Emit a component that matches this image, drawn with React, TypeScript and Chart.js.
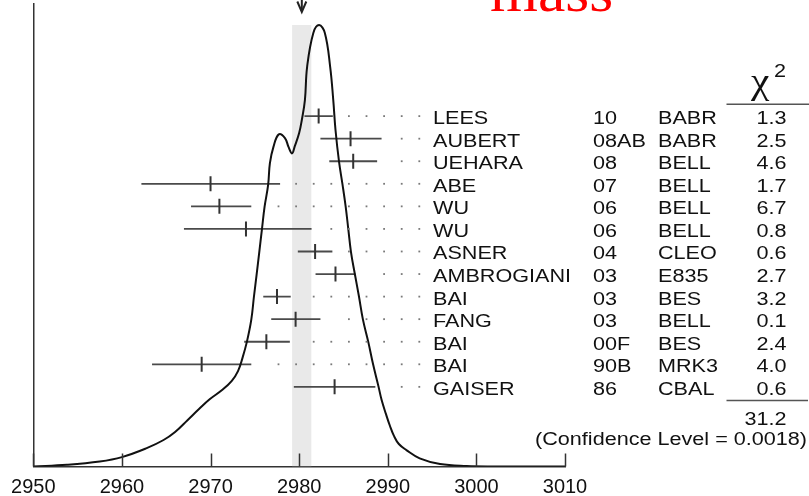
import React, { useEffect, useRef } from 'react';
import { Chart, registerables } from 'chart.js';

Chart.register(...registerables);

// ---- data ----
const names = ['LEES', 'AUBERT', 'UEHARA', 'ABE', 'WU', 'WU', 'ASNER', 'AMBROGIANI', 'BAI', 'FANG', 'BAI', 'BAI', 'GAISER'];
const years = ['10', '08AB', '08', '07', '06', '06', '04', '03', '03', '03', '00F', '90B', '86'];
const experiments = ['BABR', 'BABR', 'BELL', 'BELL', 'BELL', 'BELL', 'CLEO', 'E835', 'BES', 'BELL', 'BES', 'MRK3', 'CBAL'];
const chi2 = ['1.3', '2.5', '4.6', '1.7', '6.7', '0.8', '0.6', '2.7', '3.2', '0.1', '2.4', '4.0', '0.6'];
const values = [2982.2, 2985.8, 2986.1, 2970.0, 2971.0, 2974.0, 2981.8, 2984.1, 2977.5, 2979.6, 2976.3, 2969.0, 2984.0];
const errLow = [1.6, 3.4, 2.7, 7.8, 3.2, 7.0, 1.95, 2.25, 1.55, 2.75, 2.5, 5.6, 4.6];
const errHigh = [1.6, 3.5, 2.7, 7.85, 3.6, 7.4, 1.95, 2.25, 1.55, 2.8, 2.65, 5.6, 4.6];
const chiTotal = '31.2';
const confidence = '(Confidence Level = 0.0018)';
const title = 'mass';

const curveX = [2950.0, 2953.8, 2957.5, 2960.0, 2962.8, 2964.7, 2966.0, 2967.4, 2968.7, 2969.9, 2971.3, 2972.4, 2973.1, 2973.6, 2974.1, 2974.6, 2974.9, 2975.2, 2975.5, 2975.8, 2976.1, 2976.5, 2976.7, 2977.1, 2977.7, 2978.4, 2978.8, 2979.2, 2979.5, 2980.0, 2980.3, 2980.65, 2980.9, 2981.6, 2982.25, 2982.9, 2983.5, 2983.85, 2984.1, 2984.5, 2984.9, 2985.25, 2985.55, 2985.85, 2986.3, 2986.75, 2987.2, 2987.8, 2988.35, 2988.95, 2989.3, 2989.8, 2990.25, 2990.7, 2991.25, 2992.1, 2993.6, 2995.9, 2998.9, 3002.0, 3010.0];
const curveY = [0, 0.37, 1.08, 2.03, 3.97, 5.72, 7.45, 10.0, 12.4, 14.5, 16.5, 18.5, 20.6, 23.4, 26.9, 31.7, 36.7, 41.4, 46.3, 51.2, 56.1, 60.8, 65.5, 69.0, 71.7, 70.9, 69.0, 67.6, 69.1, 72.0, 74.8, 79.1, 86.3, 93.6, 95.3, 93.6, 86.3, 79.1, 72.7, 65.8, 60.8, 56.1, 51.2, 46.3, 41.4, 36.7, 31.7, 26.9, 22.0, 17.3, 14.4, 11.3, 8.75, 6.6, 4.85, 3.55, 1.77, 0.54, 0.11, 0.02, 0];

const fitMass = 2980.3;
const fitErr = 1.1;
const bandTop = 95.3;
const xTicks = [2950, 2960, 2970, 2980, 2990, 3000, 3010];

const FONT = '"Liberation Sans", Arial, sans-serif';

function sText(ctx: CanvasRenderingContext2D, text: string, x: number, y: number, align: CanvasTextAlign, font: string, sx: number, color = '#111') {
  ctx.save();
  ctx.translate(x, y);
  ctx.scale(sx, 1);
  ctx.font = font;
  ctx.fillStyle = color;
  ctx.textAlign = align;
  ctx.textBaseline = 'alphabetic';
  ctx.fillText(text, 0, 0);
  ctx.restore();
}

const NAME_X = 433;
const YEAR_X = 593;
const EXP_X = 658;
const CHI_R = 786.5;

const pdgPlugin = {
  id: 'pdgIdeogram',
  afterDatasetsDraw(chart: any) {
    const ctx: CanvasRenderingContext2D = chart.ctx;
    const xs = chart.scales.x;
    const ys = chart.scales.yRows;
    ctx.save();
    ctx.fillStyle = '#7a7a7a';
    values.forEach((v, i) => {
      const py = ys.getPixelForValue(i);
      const hi = xs.getPixelForValue(v + errHigh[i]);
      for (let k = 0; k < 40; k++) {
        const dx = NAME_X - 13.7 - k * 17.6;
        if (dx <= hi + 13) break;
        ctx.fillRect(dx - 0.9, py - 0.9, 1.8, 1.8);
      }
    });
    ctx.restore();
  },
  afterDraw(chart: any) {
    const ctx: CanvasRenderingContext2D = chart.ctx;
    const xs = chart.scales.x;
    const ys = chart.scales.yRows;
    const area = chart.chartArea;

    // inward tick marks
    ctx.save();
    ctx.strokeStyle = '#333';
    ctx.lineWidth = 1.5;
    xs.ticks.forEach((t: any) => {
      const px = Math.round(xs.getPixelForValue(t.value)) + 0.5;
      ctx.beginPath();
      ctx.moveTo(px, area.bottom);
      ctx.lineTo(px, area.bottom - 13);
      ctx.stroke();
    });

    // arrow marking the fit
    const ax = xs.getPixelForValue(fitMass);
    ctx.strokeStyle = '#222';
    ctx.lineWidth = 2;
    ctx.beginPath();
    ctx.moveTo(ax, -2);
    ctx.lineTo(ax, 11);
    ctx.stroke();
    ctx.beginPath();
    ctx.moveTo(ax - 4.5, 1.5);
    ctx.lineTo(ax, 12);
    ctx.lineTo(ax + 4.5, 1.5);
    ctx.stroke();
    ctx.restore();

    // title fragment
    sText(ctx, title, 490, 11, 'left', '56px "Liberation Serif", "Times New Roman", serif', 1.1, '#ff0000');

    // table
    const tf = `18px ${FONT}`;
    const sx = 1.2;
    names.forEach((n, i) => {
      const by = ys.getPixelForValue(i) + 8;
      sText(ctx, n, NAME_X, by, 'left', tf, sx);
      sText(ctx, years[i], YEAR_X, by, 'left', tf, sx);
      sText(ctx, experiments[i], EXP_X, by, 'left', tf, sx);
      sText(ctx, chi2[i], CHI_R, by, 'right', tf, sx);
    });

    // chi^2 header
    sText(ctx, 'χ', 751, 93, 'left', '36px "Liberation Serif", "DejaVu Serif", serif', 1.15);
    sText(ctx, '2', 774, 77, 'left', tf, sx);

    ctx.save();
    ctx.strokeStyle = '#555';
    ctx.lineWidth = 1.5;
    const hy = ys.getPixelForValue(-0.53);
    ctx.beginPath();
    ctx.moveTo(726.5, hy);
    ctx.lineTo(809, hy);
    ctx.stroke();
    const ty = ys.getPixelForValue(12.6);
    ctx.beginPath();
    ctx.moveTo(726.5, ty);
    ctx.lineTo(808, ty);
    ctx.stroke();
    ctx.restore();

    sText(ctx, chiTotal, CHI_R, ys.getPixelForValue(13.4) + 6.5, 'right', tf, sx);
    sText(ctx, confidence, 807, ys.getPixelForValue(14.27) + 6.5, 'right', tf, sx);
  },
};

export default function App() {
  const ref = useRef<HTMLCanvasElement>(null);

  useEffect(() => {
    const canvas = ref.current;
    if (!canvas) return;

    const errorBars = values.map((v, i) => ({
      type: 'line' as const,
      data: [
        { x: v - errLow[i], y: i },
        { x: v + errHigh[i], y: i },
      ],
      yAxisID: 'yRows',
      borderColor: '#4a4a4a',
      borderWidth: 1.8,
      pointRadius: 0,
      fill: false,
      order: 3,
    }));

    const chart = new Chart(canvas, {
      type: 'line',
      data: {
        datasets: [
          {
            type: 'line',
            data: [
              { x: fitMass - fitErr, y: bandTop },
              { x: fitMass + fitErr, y: bandTop },
            ],
            yAxisID: 'y',
            backgroundColor: '#e9e9e9',
            borderWidth: 0,
            borderColor: 'rgba(0,0,0,0)',
            pointRadius: 0,
            fill: 'origin',
            order: 10,
          },
          {
            type: 'line',
            data: curveX.map((x, i) => ({ x, y: curveY[i] })),
            yAxisID: 'y',
            borderColor: '#111',
            borderWidth: 2,
            pointRadius: 0,
            fill: false,
            tension: 0.4,
            order: 1,
          },
          ...errorBars,
          {
            type: 'line',
            data: values.map((v, i) => ({ x: v, y: i })),
            yAxisID: 'yRows',
            showLine: false,
            pointStyle: 'line',
            pointRadius: 7.5,
            pointRotation: 90,
            pointBorderColor: '#333',
            pointBorderWidth: 2,
            borderColor: '#333',
            order: 2,
          },
        ] as any,
      },
      options: {
        responsive: false,
        animation: false,
        events: [],
        layout: { autoPadding: false, padding: { left: 33.3, right: 244, top: 3.3, bottom: 0 } },
        plugins: { legend: { display: false }, tooltip: { enabled: false } },
        scales: {
          x: {
            type: 'linear',
            position: 'bottom',
            min: 2950,
            max: 3010,
            afterBuildTicks: (s: any) => {
              s.ticks = xTicks.map((v) => ({ value: v }));
            },
            afterFit: (s: any) => {
              s.height = 29.5;
            },
            grid: { display: false, drawTicks: false },
            border: { display: true, color: '#333', width: 1.5 },
            ticks: {
              padding: 9,
              color: '#111',
              font: { family: FONT, size: 20 },
              autoSkip: false,
              maxRotation: 0,
              callback: (v: any) => String(v),
            },
          },
          y: {
            type: 'linear',
            position: 'left',
            min: 0,
            max: 100,
            afterFit: (s: any) => {
              s.width = 0;
            },
            grid: { display: false, drawTicks: false },
            border: { display: true, color: '#333', width: 1.5 },
            ticks: { display: false },
          },
          yRows: {
            type: 'linear',
            display: false,
            reverse: true,
            min: -5.0,
            max: 15.53,
          },
        },
      } as any,
      plugins: [pdgPlugin],
    });

    return () => chart.destroy();
  }, []);

  return (
    <div style={{ position: 'absolute', left: 0, top: 0, width: 809, height: 496, background: '#fff' }}>
      <canvas ref={ref} width={809} height={496} style={{ display: 'block' }} />
    </div>
  );
}
